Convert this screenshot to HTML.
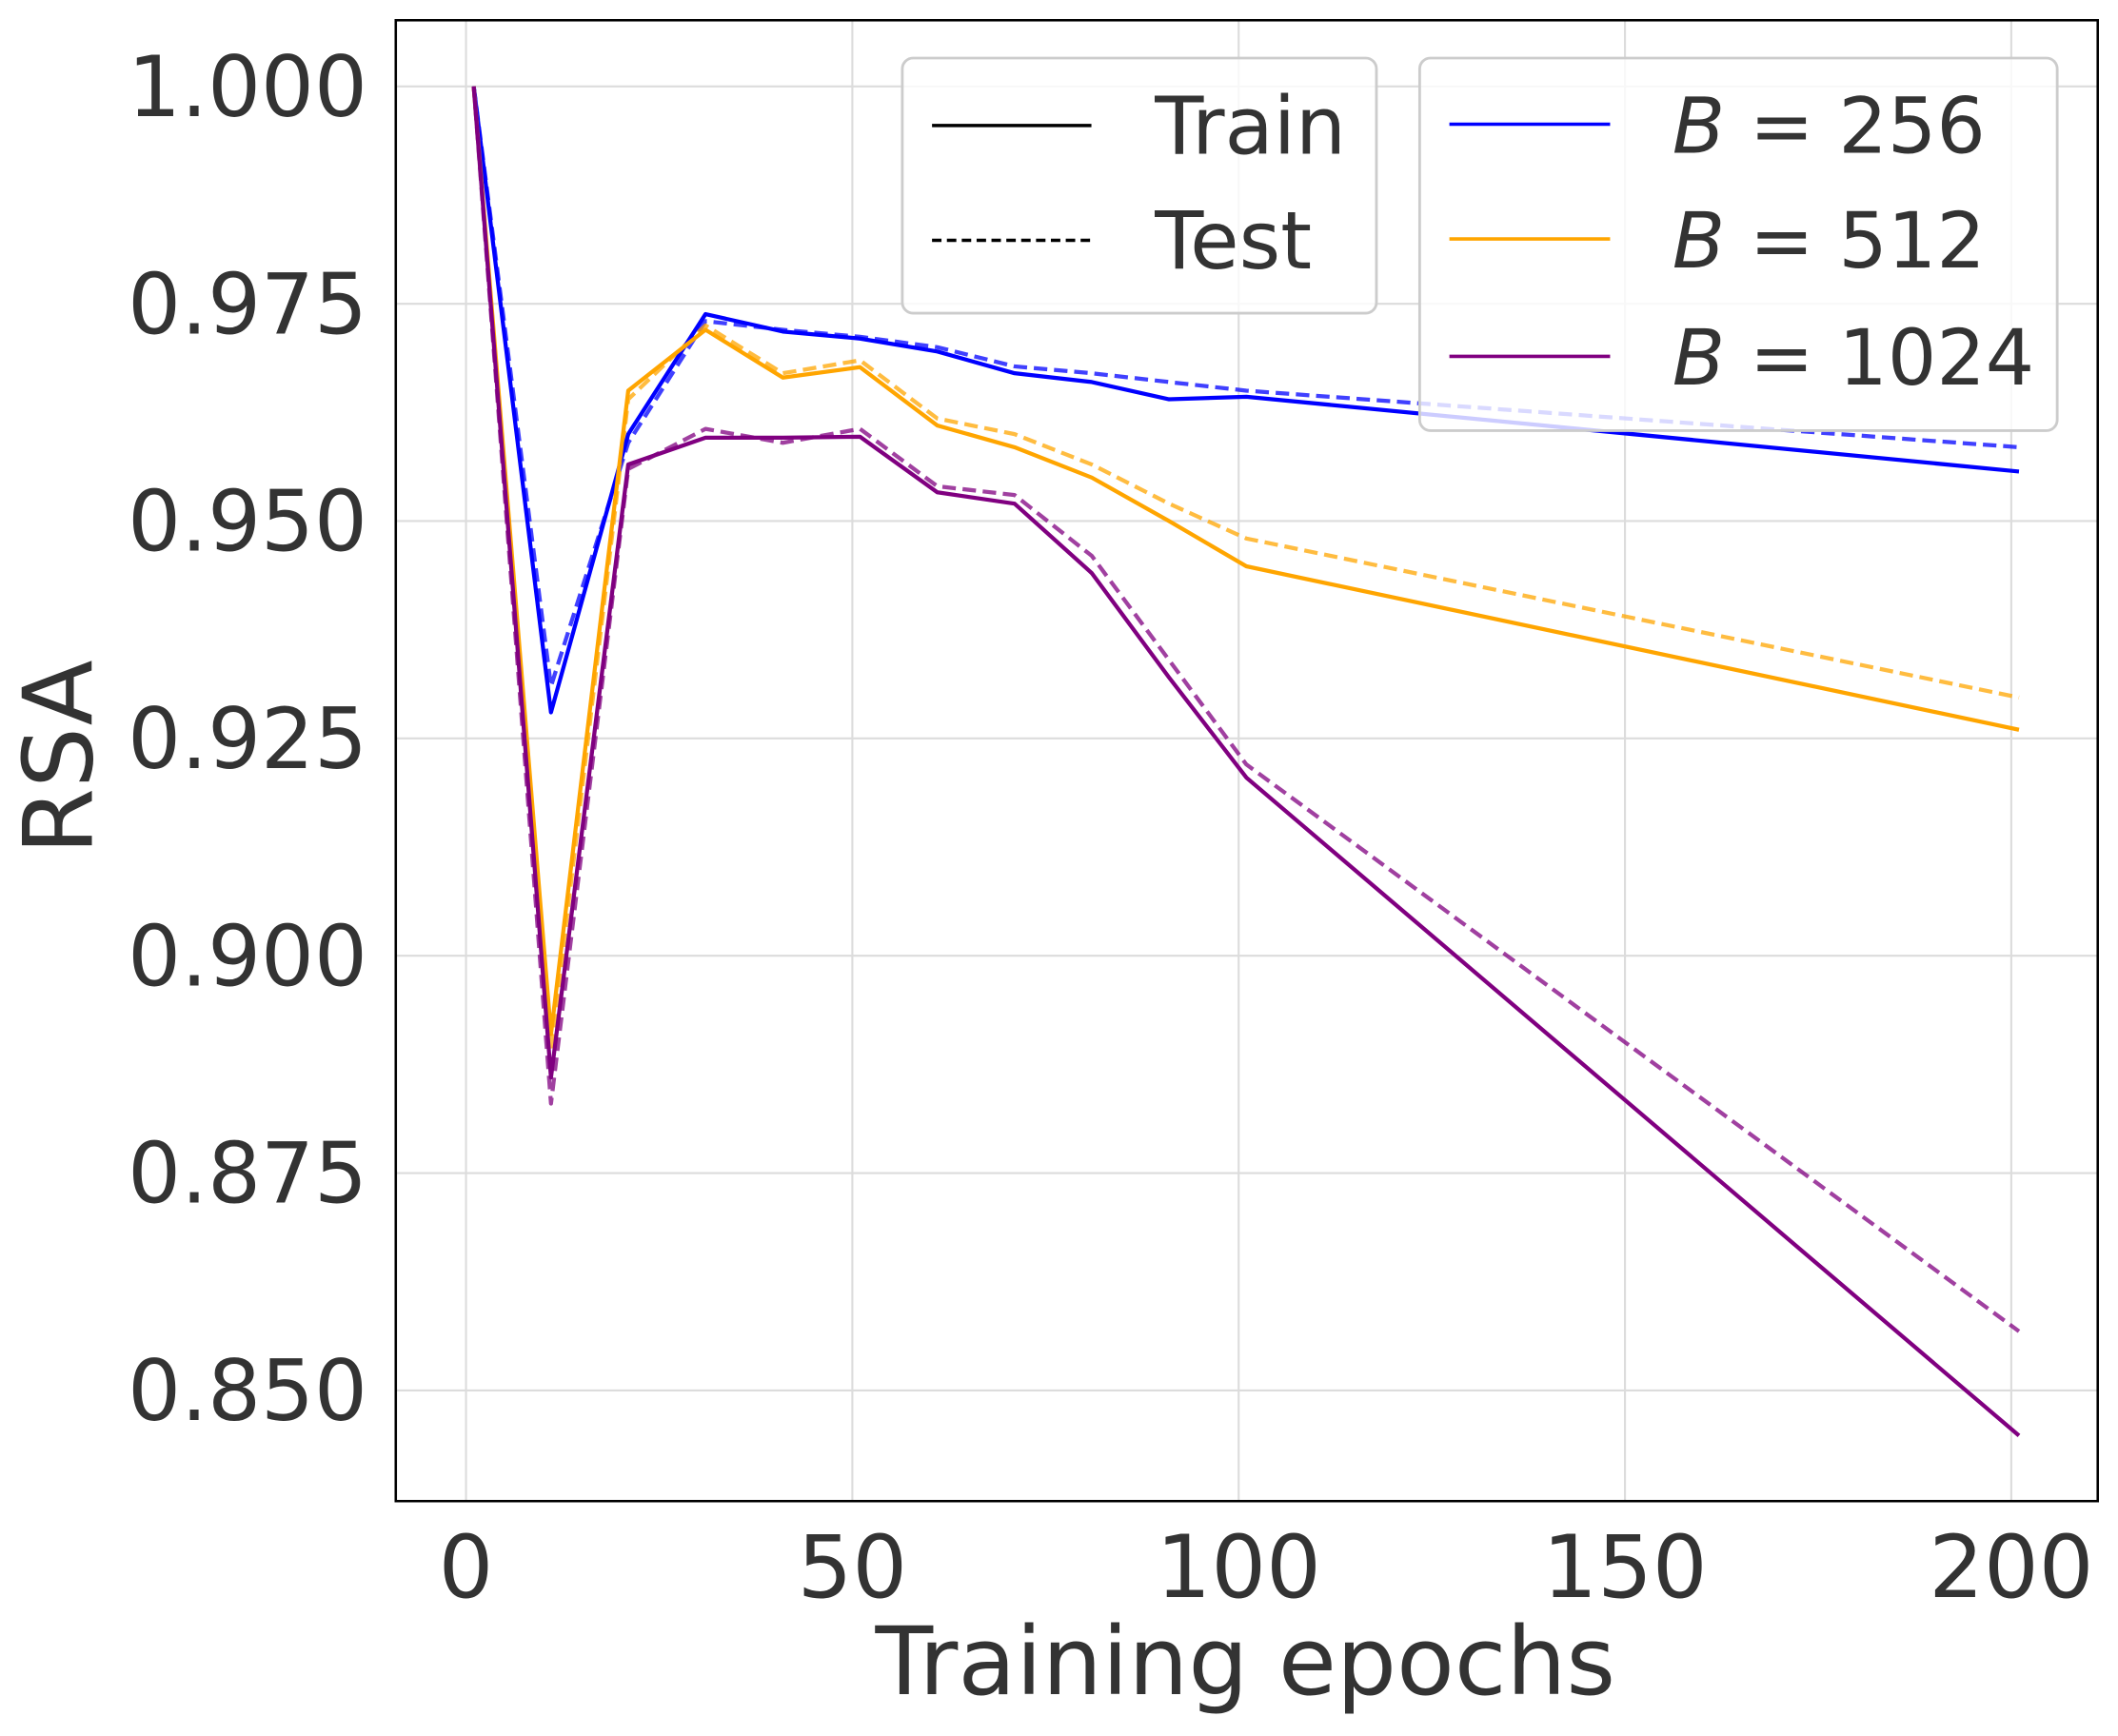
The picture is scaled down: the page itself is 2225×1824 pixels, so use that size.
<!DOCTYPE html>
<html><head><style>html,body{margin:0;padding:0;background:#fff}svg{display:block}</style></head>
<body>
<svg id="s" width="2225" height="1824" viewBox="0 0 1568 1286" preserveAspectRatio="none" xmlns="http://www.w3.org/2000/svg" font-family="'DejaVu Sans','Liberation Sans',sans-serif">
<rect width="1568" height="1286" fill="#fff"/>
<g id="grid" stroke="#dcdcdc" stroke-width="1.5"></g>
<g id="lines" fill="none" stroke-width="3" stroke-linejoin="round"></g>
<rect x="293" y="15" width="1260" height="1097" fill="none" stroke="#000" stroke-width="1.8"/>
<g id="ticks" fill="#333"></g>
<text x="922" y="1255" text-anchor="middle" font-size="70" fill="#333">Training epochs</text>
<text transform="translate(68,561) rotate(-90)" text-anchor="middle" font-size="71" fill="#333">RSA</text>
<g>
<rect x="668" y="43" width="351" height="189" rx="8" fill="#fff" fill-opacity="0.8" stroke="#ccc" stroke-width="2"/>
<line x1="690" y1="93" x2="808" y2="93" stroke="#000" stroke-width="2.5"/>
<line x1="690" y1="178" x2="808" y2="178" stroke="#000" stroke-width="2.5" stroke-dasharray="7,4"/>
<text x="855" y="114" font-size="59" fill="#333">Train</text>
<text x="855" y="199" font-size="59" fill="#333">Test</text>
<rect x="1051" y="43" width="472" height="276" rx="8" fill="#fff" fill-opacity="0.8" stroke="#ccc" stroke-width="2"/>
<line x1="1073" y1="92" x2="1192" y2="92" stroke="#0000ff" stroke-width="2.5"/>
<line x1="1073" y1="177" x2="1192" y2="177" stroke="#ffa500" stroke-width="2.5"/>
<line x1="1073" y1="264" x2="1192" y2="264" stroke="#800080" stroke-width="2.5"/>
<text x="1238" y="113" font-size="57" fill="#333"><tspan font-style="italic">B</tspan> = 256</text>
<text x="1238" y="198" font-size="57" fill="#333"><tspan font-style="italic">B</tspan> = 512</text>
<text x="1238" y="285" font-size="57" fill="#333"><tspan font-style="italic">B</tspan> = 1024</text>
</g>
</svg>
<script>
var NS="http://www.w3.org/2000/svg";
function X(e){return 345+5.72*e}function Y(v){return 64+(1-v)*6440}
function el(p,t,a,txt){var n=document.createElementNS(NS,t);for(var k in a)n.setAttribute(k,a[k]);if(txt)n.textContent=txt;document.getElementById(p).appendChild(n);}
[0,50,100,150,200].forEach(function(e){el("grid","line",{x1:X(e),x2:X(e),y1:15,y2:1112});el("ticks","text",{x:X(e),y:1183,"text-anchor":"middle","font-size":"64"},String(e));});
[1,0.975,0.95,0.925,0.9,0.875,0.85].forEach(function(v){el("grid","line",{x1:293,x2:1553,y1:Y(v),y2:Y(v)});el("ticks","text",{x:272,y:Y(v)+22,"text-anchor":"end","font-size":"62"},v.toFixed(3));});
var E=[1,11,21,31,41,51,61,71,81,91,101,201];
var S=[
["#0000ff",1,[1,0.931,0.959,0.973,0.972,0.9712,0.970,0.9678,0.967,0.966,0.965,0.9585]],
["#ffa500",1,[1,0.889,0.964,0.9725,0.967,0.9685,0.9618,0.96,0.9565,0.952,0.948,0.9297]],
["#800080",1,[1,0.883,0.956,0.9606,0.959,0.9606,0.954,0.953,0.946,0.934,0.922,0.8568]],
["#0000ff",0,[1,0.928,0.960,0.9738,0.9718,0.971,0.9695,0.967,0.966,0.964,0.9643,0.9557]],
["#ffa500",0,[1,0.891,0.965,0.972,0.9665,0.9677,0.961,0.9585,0.955,0.95,0.9448,0.926]],
["#800080",0,[1,0.886,0.9565,0.9596,0.9596,0.9597,0.9533,0.952,0.944,0.932,0.9205,0.8448]]];
S.forEach(function(s){var p=s[2].map(function(v,i){return X(E[i]).toFixed(1)+","+Y(v).toFixed(1)}).join(" ");
var a={points:p,stroke:s[0]};if(s[1]){a["stroke-dasharray"]="10,5";a["stroke-opacity"]="0.75";}el("lines","polyline",a);});
</script>
</body></html>
